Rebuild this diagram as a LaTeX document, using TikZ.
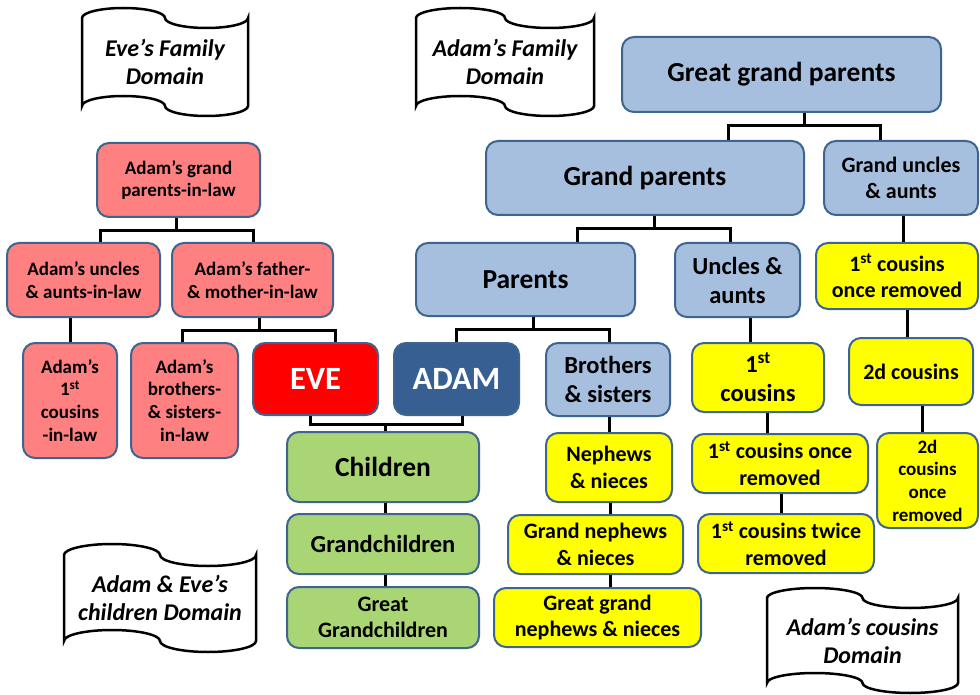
\documentclass[tikz,border=0pt]{standalone}
\usepackage{fontspec}
\setmainfont{Carlito}
\usetikzlibrary{calc}
\definecolor{redbox}{HTML}{FF8080}
\definecolor{bluebox}{HTML}{A7BFDE}
\definecolor{edge}{HTML}{3D6590}
\definecolor{evered}{HTML}{FF0000}
\definecolor{adamblue}{HTML}{385F91}
\definecolor{grn}{HTML}{A9D574}
\definecolor{yel}{HTML}{FFFF00}
\tikzset{
  box/.style={draw=edge, line width=2pt, rounded corners=12pt, align=center, inner sep=0pt},
  sz/.style 2 args={minimum width=#1pt, minimum height=#2pt},
  fA/.style={font=\bfseries\fontsize{27.5}{32}\selectfont},
  fB/.style={font=\bfseries\fontsize{24.5}{29}\selectfont},
  fC/.style={font=\bfseries\fontsize{22}{26.5}\selectfont},
  fD/.style={font=\bfseries\fontsize{19}{22.7}\selectfont},
  fE/.style={font=\bfseries\fontsize{32.5}{36}\selectfont},
  conn/.style={line width=3pt, draw=black},
  bannerline/.style={draw=black, line width=2.5pt, fill=white},
  bannertext/.style={align=center, inner sep=0pt, font=\bfseries\itshape\fontsize{24}{28.5}\selectfont}
}
\newcommand\vlink[3]{\path ([xshift=#3]#1.south) coordinate (tmpv); \draw[conn] (tmpv) -- (tmpv |- #2.north);}
\newcommand\banner[5]{% L T R B ry
  \pgfmathsetmacro\bq{(#3-#1)/4}
  \draw[bannerline] (#1,#2) arc[start angle=180,end angle=360,x radius=\bq,y radius=#5]
    arc[start angle=180,end angle=0,x radius=\bq,y radius=#5] -- (#3,#4)
    arc[start angle=0,end angle=180,x radius=\bq,y radius=#5]
    arc[start angle=0,end angle=-180,x radius=\bq,y radius=#5] -- cycle;}
\begin{document}
\begin{tikzpicture}[x=1pt,y=-1pt]
\useasboundingbox[fill=white] (0,0) rectangle (980,695);

% banners
\banner{82}{18}{248}{106}{10}
\node[bannertext] (bEve) at (165,62) {Eve’s Family\\Domain};
\banner{416}{18}{594}{106}{10}
\node[bannertext] (bAdam) at (505,62) {Adam’s Family\\Domain};
\banner{64}{555}{256}{641}{11}
\node[bannertext] (bKids) at (160,598) {Adam \& Eve’s\\children Domain};
\banner{767}{598}{958}{683}{10}
\node[bannertext] (bCous) at (862.5,641) {Adam’s cousins\\Domain};

% Eve's family
\node[box,fill=redbox,fD,sz={163}{74}] (gpil) at (178.5,180) {Adam’s grand\\parents-in-law};
\node[box,fill=redbox,fD,sz={153}{74}] (uil) at (83.5,280) {Adam’s uncles\\\& aunts-in-law};
\node[box,fill=redbox,fD,sz={161}{74}] (fil) at (252.5,280) {Adam’s father-\\\& mother-in-law};
\node[box,fill=redbox,fD,sz={94}{115}] (cil) at (70,400.5) {Adam’s\\1\textsuperscript{st}\\cousins\\-in-law};
\node[box,fill=redbox,fD,sz={107}{115}] (bil) at (184.5,400.5) {Adam’s\\brothers-\\\& sisters-\\in-law};
\node[box,fill=evered,text=white,fE,sz={125}{72}] (eve) at (315.5,379) {EVE};
\node[box,fill=adamblue,text=white,fE,sz={125}{72}] (adam) at (456.5,379) {ADAM};

% Adam's family
\node[box,fill=bluebox,fA,sz={319}{75}] (ggp) at (781.5,74.5) {Great grand parents};
\node[box,fill=bluebox,fA,sz={318}{74}] (gp) at (645,178) {Grand parents};
\node[box,fill=bluebox,fC,sz={154}{74}] (gua) at (901,178) {Grand uncles\\\& aunts};
\node[box,fill=bluebox,fA,sz={219}{73}] (par) at (525.5,279.5) {Parents};
\node[box,fill=bluebox,fB,sz={125}{74}] (ua) at (737.5,280) {Uncles \&\\aunts};
\node[box,fill=yel,fC,sz={162}{66}] (c1r) at (897,276) {1\textsuperscript{st} cousins\\once removed};
\node[box,fill=bluebox,fB,sz={124}{73}] (bs) at (608,379.5) {Brothers\\\& sisters};
\node[box,fill=yel,fB,sz={132}{69}] (c1) at (758,377.5) {1\textsuperscript{st}\\cousins};
\node[box,fill=yel,fC,sz={124}{67}] (c2) at (911,371.5) {2d cousins};
\node[box,fill=yel,fC,sz={126}{69}] (nn) at (609,467.5) {Nephews\\\& nieces};
\node[box,fill=yel,fC,sz={176}{59}] (c1o) at (780,463.5) {1\textsuperscript{st} cousins once\\removed};
\node[box,fill=yel,fD,sz={101}{95}] (c2o) at (927.5,480.5) {2d\\cousins\\once\\removed};
\node[box,fill=yel,fC,sz={175}{59}] (gnn) at (595.5,544.5) {Grand nephews\\\& nieces};
\node[box,fill=yel,fC,sz={176}{59}] (c1t) at (786,543.5) {1\textsuperscript{st} cousins twice\\removed};
\node[box,fill=yel,fC,sz={207}{59}] (ggnn) at (597.5,617.5) {Great grand\\nephews \& nieces};

% children
\node[box,fill=grn,fA,sz={192}{70}] (ch) at (383,467) {Children};
\node[box,fill=grn,fB,sz={192}{60}] (gch) at (383,544) {Grandchildren};
\node[box,fill=grn,fC,sz={192}{61}] (ggch) at (383,617.5) {Great\\Grandchildren};

% connectors
\draw[conn] ([xshift=-2.5pt]gpil.south) -- ++(0,13) coordinate (bA);
\draw[conn] ([xshift=16.5pt]uil.north) |- (bA) -| ([xshift=0.5pt]fil.north);
\draw[conn] ([xshift=6.5pt]fil.south) -- ++(0,12) coordinate (bB);
\draw[conn] ([xshift=-2.5pt]bil.north) |- (bB) -| ([xshift=19.5pt]eve.north);
\vlink{uil}{cil}{-13.5pt}
\draw[conn] ([xshift=-5.5pt]eve.south) -- ++(0,8) coordinate (bC) -| ([xshift=5.5pt]adam.south);
\path ([xshift=2pt]ch.north) coordinate (chn);
\draw[conn] (chn) -- (chn |- bC);
\draw[conn] ([xshift=7.5pt]par.south) -- ++(0,12) coordinate (bD);
\draw[conn] (adam.north) |- (bD) -| ([xshift=1pt]bs.north);
\draw[conn] ([xshift=22.5pt]ggp.south) -- ++(0,13) coordinate (bE);
\draw[conn] ([xshift=83pt]gp.north) |- (bE) -| ([xshift=-21pt]gua.north);
\draw[conn] ([xshift=9pt]gp.south) -- ++(0,13) coordinate (bF);
\draw[conn] ([xshift=51.5pt]par.north) |- (bF) -| ([xshift=-7.5pt]ua.north);
\vlink{gua}{c1r}{2pt}
\vlink{c1r}{c2}{10pt}
\vlink{ua}{c1}{12.5pt}
\vlink{bs}{nn}{1pt}
\vlink{c1}{c1o}{9pt}
\vlink{c2}{c2o}{11pt}
\vlink{c1o}{c1t}{1pt}
\vlink{nn}{gnn}{1pt}
\vlink{gnn}{ggnn}{14.5pt}
\vlink{ch}{gch}{2pt}
\vlink{gch}{ggch}{2pt}
\end{tikzpicture}
\end{document}
